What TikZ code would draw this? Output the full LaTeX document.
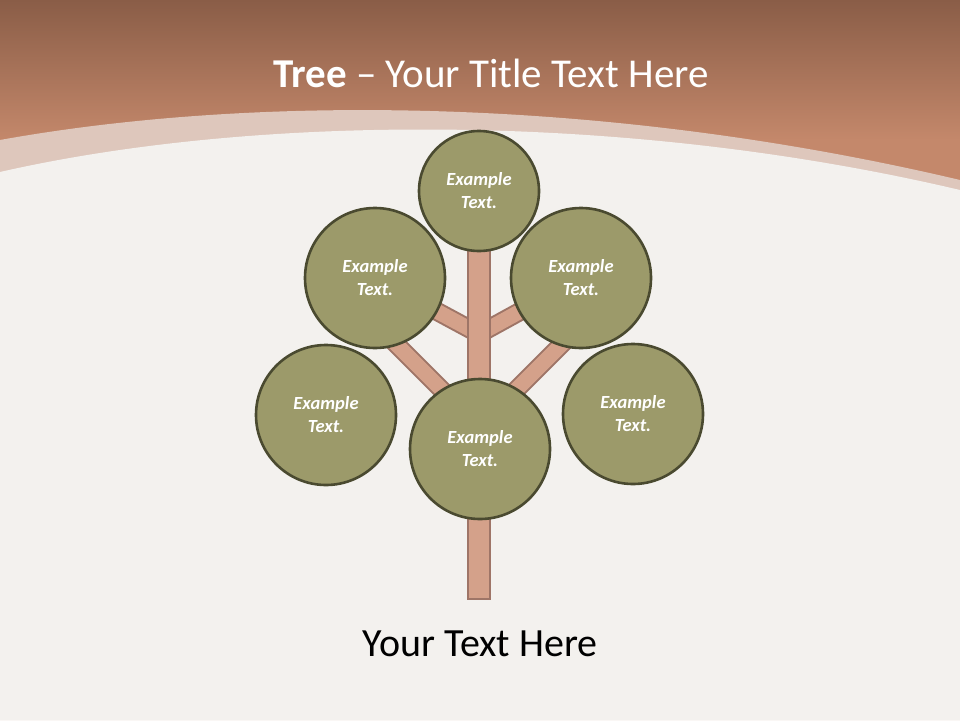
\documentclass[tikz,border=0pt]{standalone}
\usepackage{fontspec}
\setmainfont{Carlito}
\definecolor{topdark}{HTML}{8A5D47}
\definecolor{toplight}{HTML}{C4886B}
\definecolor{band}{HTML}{DEC7BC}
\definecolor{body}{HTML}{F3F1EE}
\definecolor{leaf}{HTML}{9C9A6A}
\definecolor{leafedge}{HTML}{4A4A30}
\definecolor{wood}{HTML}{D4A18A}
\definecolor{woodedge}{HTML}{9E7567}
\tikzset{
  leafnode/.style={circle, fill=leaf, draw=leafedge, line width=2.6pt, minimum size=140pt, inner sep=0pt,
    text=white, align=center, font=\fontsize{18.5}{23}\selectfont\bfseries\itshape},
  smallleaf/.style={leafnode, minimum size=120pt},
  branch/.style={draw=woodedge, line width=19pt, line cap=butt},
  branchin/.style={draw=wood, line width=15pt, line cap=butt},
}
\begin{document}
\begin{tikzpicture}[x=1pt, y=-1pt]
\useasboundingbox (0,0) rectangle (960,720);
% background
\fill[body] (0,0) rectangle (960,720);
\shade[top color=topdark, bottom color=toplight] (0,0) rectangle (960,140);
\fill[toplight] (0,139) rectangle (960,200);
\fill[band] (0,140) .. controls (250,95) and (600,95) .. (960,180) -- (960,720) -- (0,720) -- cycle;
\fill[body] (0,172) .. controls (250,115) and (620,110) .. (960,190) -- (960,720) -- (0,720) -- cycle;
% title
\node[anchor=base, text=white, font=\fontsize{41}{46}\selectfont] (title) at (491,87) {\textbf{Tree} – Your Title Text Here};
% coordinates
\coordinate (j1) at (479,334);
\coordinate (j2) at (479,427);
\coordinate (bl) at (379,327);
\coordinate (br) at (579,327);
\coordinate (ulc) at (375,278);
\coordinate (urc) at (581,278);
% branches
\foreach \a/\b in {j1/ulc, j1/urc, j2/bl, j2/br}{
  \draw[branch] (\a) -- (\b);
  \draw[branchin] (\a) -- (\b);
}
% trunk
\node[draw=woodedge, fill=wood, line width=2pt, minimum width=22pt, minimum height=360pt, inner sep=0pt, anchor=south] (trunk) at (479,600) {};
% leaves
\node[smallleaf] (top) at (479,191) {Example\\Text.};
\node[leafnode] (ul) at (ulc) {Example\\Text.};
\node[leafnode] (ur) at (urc) {Example\\Text.};
\node[leafnode] (ll) at (326,415) {Example\\Text.};
\node[leafnode] (cc) at (480,449) {Example\\Text.};
\node[leafnode] (rr) at (633,414) {Example\\Text.};
% bottom text
\node[anchor=base, text=black, font=\fontsize{40}{46}\selectfont] (sub) at (480,656) {Your Text Here};
\end{tikzpicture}
\end{document}
